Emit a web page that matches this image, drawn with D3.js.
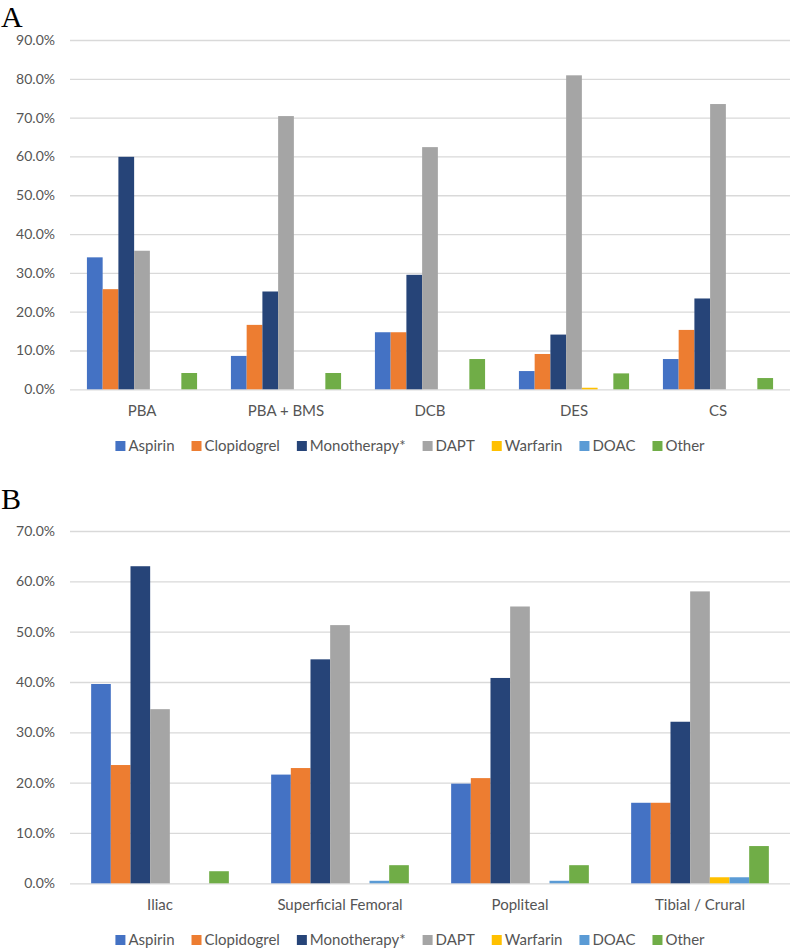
<!DOCTYPE html>
<html>
<head>
<meta charset="utf-8">
<script src="https://cdn.jsdelivr.net/npm/d3@7"></script>
<style>
  body { margin: 0; background: #fff; }
  text { font-family: Lato, "Open Sans", sans-serif; }
</style>
</head>
<body>
<div id="plot"></div>
<script>
// series shared by both panels
var series = ['Aspirin', 'Clopidogrel', 'Monotherapy*', 'DAPT', 'Warfarin', 'DOAC', 'Other']
var colors = ['#4472C4', '#ED7D31', '#264478', '#A5A5A5', '#FFC000', '#5B9BD5', '#70AD47']

// panel A: by device
var categoriesA = ['PBA', 'PBA + BMS', 'DCB', 'DES', 'CS']
var aspirinA     = [34.0,  8.6, 14.7,  4.7,  7.8]
var clopidogrelA = [25.8, 16.6, 14.7,  9.1, 15.3]
var monoA        = [59.9, 25.2, 29.5, 14.1, 23.4]
var daptA        = [35.7, 70.4, 62.4, 80.9, 73.5]
var warfarinA    = [0, 0, 0, 0.4, 0]
var doacA        = [0, 0, 0, 0, 0]
var otherA       = [4.2, 4.2, 7.8, 4.1, 2.9]
var ticksA = [0, 10, 20, 30, 40, 50, 60, 70, 80, 90]

// panel B: by segment
var categoriesB = ['Iliac', 'Superficial Femoral', 'Popliteal', 'Tibial / Crural']
var aspirinB     = [39.6, 21.6, 19.8, 16.0]
var clopidogrelB = [23.5, 22.9, 20.9, 16.0]
var monoB        = [63.0, 44.5, 40.8, 32.1]
var daptB        = [34.6, 51.3, 55.0, 58.0]
var warfarinB    = [0, 0, 0, 1.2]
var doacB        = [0, 0.5, 0.5, 1.2]
var otherB       = [2.4, 3.6, 3.6, 7.4]
var ticksB = [0, 10, 20, 30, 40, 50, 60, 70]

var width = 792, height = 948

var svg = d3.select("#plot")
  .append("svg")
  .attr("width", width)
  .attr("height", height)

function drawPanel(opt) {
  var values = opt.values
  var g = svg.append("g")

  var x = d3.scaleBand()
    .domain(opt.categories)
    .range([70, 790])
    .paddingInner(0.235)
    .paddingOuter(0.1175)

  var xs = d3.scaleBand()
    .domain(series)
    .range([0, x.bandwidth()])

  var y = d3.scaleLinear()
    .domain([0, d3.max(opt.ticks)])
    .range([opt.bottom, opt.top])

  // gridlines + tick labels
  var yAxis = g.append("g")
    .attr("transform", "translate(70,0)")
    .call(d3.axisLeft(y).tickValues(opt.ticks).tickSize(-720).tickPadding(15)
      .tickFormat(d => d.toFixed(1) + "%"))
  yAxis.select(".domain").remove()
  yAxis.selectAll("line").attr("stroke", "#D9D9D9").attr("stroke-width", 1.3)
  yAxis.selectAll("text").attr("fill", "#555").style("font-size", "14px")
    .style("font-family", "Lato, sans-serif")

  // bars
  series.forEach(function (s, si) {
    g.selectAll(".bar" + si)
      .data(opt.categories)
      .enter()
      .append("rect")
      .attr("x", d => x(d) + xs(s))
      .attr("width", xs.bandwidth())
      .attr("y", (d, i) => y(values[si][i]))
      .attr("height", (d, i) => y(0) - y(values[si][i]))
      .attr("fill", colors[si])
  })

  // category axis
  var xAxis = g.append("g")
    .attr("transform", "translate(0," + opt.bottom + ")")
    .call(d3.axisBottom(x).tickSize(0).tickPadding(16))
  xAxis.select(".domain").remove()
  xAxis.selectAll("text").attr("fill", "#555").style("font-size", "15px")
    .style("font-family", "Lato, sans-serif")

  // legend
  var leg = g.append("g")
  var cx = 0
  series.forEach(function (s, si) {
    var item = leg.append("g").attr("transform", "translate(" + cx + ",0)")
    item.append("rect")
      .attr("x", 0).attr("y", -10)
      .attr("width", 10).attr("height", 10)
      .attr("fill", colors[si])
    var t = item.append("text")
      .attr("x", 13).attr("y", 0)
      .attr("fill", "#555")
      .style("font-size", "15px")
      .text(s)
    cx += 13 + t.node().getComputedTextLength() + 17
  })
  var total = cx - 17
  leg.attr("transform", "translate(" + (410 - total / 2) + "," + opt.legendY + ")")

  // panel letter
  svg.append("text")
    .attr("x", 1).attr("y", opt.letterY)
    .style("font-family", "'Liberation Serif', 'DejaVu Serif', serif")
    .style("font-size", "30px")
    .attr("fill", "#000")
    .text(opt.letter)
}

drawPanel({
  letter: "A", letterY: 27,
  categories: categoriesA,
  values: [aspirinA, clopidogrelA, monoA, daptA, warfarinA, doacA, otherA],
  ticks: ticksA, top: 40, bottom: 389.3, legendY: 451
})

drawPanel({
  letter: "B", letterY: 509,
  categories: categoriesB,
  values: [aspirinB, clopidogrelB, monoB, daptB, warfarinB, doacB, otherB],
  ticks: ticksB, top: 531, bottom: 883.3, legendY: 945
})
</script>
</body>
</html>
